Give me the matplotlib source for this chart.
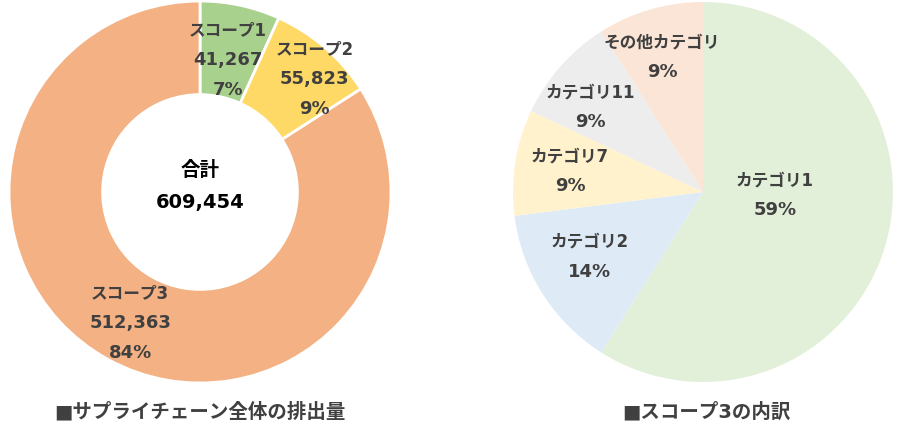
import matplotlib
matplotlib.use("Agg")
import matplotlib.pyplot as plt

# DejaVu for the (wide, Verdana-like) digits, Noto CJK for the kana / kanji
plt.rcParams["font.family"] = ["DejaVu Sans", "Noto Sans CJK JP"]

# ---------------------------------------------------------------------------
# Data
# ---------------------------------------------------------------------------
scope_names = ["スコープ1", "スコープ2", "スコープ3"]
scope_values = [41267, 55823, 512363]
scope_total = 609454  # as printed in the chart
scope_colors = ["#A9D18E", "#FFD966", "#F4B183"]
scope_label_pos = [(0.147, 0.69), (0.60, 0.59), (-0.366, -0.686)]

cat_names = ["カテゴリ1", "カテゴリ2", "カテゴリ7", "カテゴリ11", "その他カテゴリ"]
cat_shares = [59, 14, 9, 9, 9]
cat_colors = ["#E2F0D9", "#DEEBF7", "#FFF2CC", "#EDEDED", "#FBE5D6"]
cat_label_pos = [(0.379, -0.016), (-0.595, -0.342), (-0.70, 0.11),
                 (-0.595, 0.447), (-0.216, 0.71)]

left_title = "■サプライチェーン全体の排出量"
right_title = "■スコープ3の内訳"

W, H = 900, 428
LABEL_COLOR = "#404040"
NAME_FS = 12
NUM_FS = 13
LINE_PT = 21.6   # 30 px between label lines


def _pie_axes(fig, cx, cy, r):
    """Axes in pixel terms: centre (cx, cy) from top-left, radius r."""
    ax = fig.add_axes([(cx - r) / W, (H - cy - r) / H, 2 * r / W, 2 * r / H])
    ax.axis("off")
    return ax


def _fix_limits(ax):
    ax.set_xlim(-1, 1)
    ax.set_ylim(-1, 1)
    ax.set_aspect("equal")


def _stacked_label(ax, xy, lines, color=LABEL_COLOR, step=LINE_PT):
    """Draw lines of (text, fontsize) centred on xy, one under another."""
    n = len(lines)
    for i, (txt, fs) in enumerate(lines):
        ax.annotate(txt, xy=xy, xytext=(0, ((n - 1) / 2 - i) * step),
                    textcoords="offset points", ha="center", va="center",
                    fontsize=fs, fontweight="bold", color=color)


fig = plt.figure(figsize=(W / 100, H / 100), dpi=100)

# --- left donut -----------------------------------------------------------
ax1 = _pie_axes(fig, 200, 192, 191)
ax1.pie(scope_values, colors=scope_colors, startangle=90, counterclock=False,
        radius=1.0, wedgeprops=dict(width=0.49, edgecolor="white", linewidth=2))
_fix_limits(ax1)
for name, val, pos in zip(scope_names, scope_values, scope_label_pos):
    _stacked_label(ax1, pos, [(name, NAME_FS),
                              (f"{val:,}", NUM_FS),
                              (f"{val / scope_total * 100:.0f}%", NUM_FS)])
_stacked_label(ax1, (0, 0.03), [("合計", 14), (f"{scope_total:,}", 14)],
               color="black", step=23)

# --- right pie --------------------------------------------------------------
ax2 = _pie_axes(fig, 703, 192, 190)
ax2.pie(cat_shares, colors=cat_colors, startangle=90, counterclock=False,
        radius=1.0)
_fix_limits(ax2)
for name, share, pos in zip(cat_names, cat_shares, cat_label_pos):
    _stacked_label(ax2, pos, [(name, NAME_FS), (f"{share}%", NUM_FS)])

# --- titles -----------------------------------------------------------------
fig.text(200 / W, 1 - 412 / H, left_title, ha="center", va="center",
         fontsize=14, fontweight="bold", color=LABEL_COLOR)
fig.text(706 / W, 1 - 412 / H, right_title, ha="center", va="center",
         fontsize=14, fontweight="bold", color=LABEL_COLOR)

fig.savefig("out.png", dpi=100)
